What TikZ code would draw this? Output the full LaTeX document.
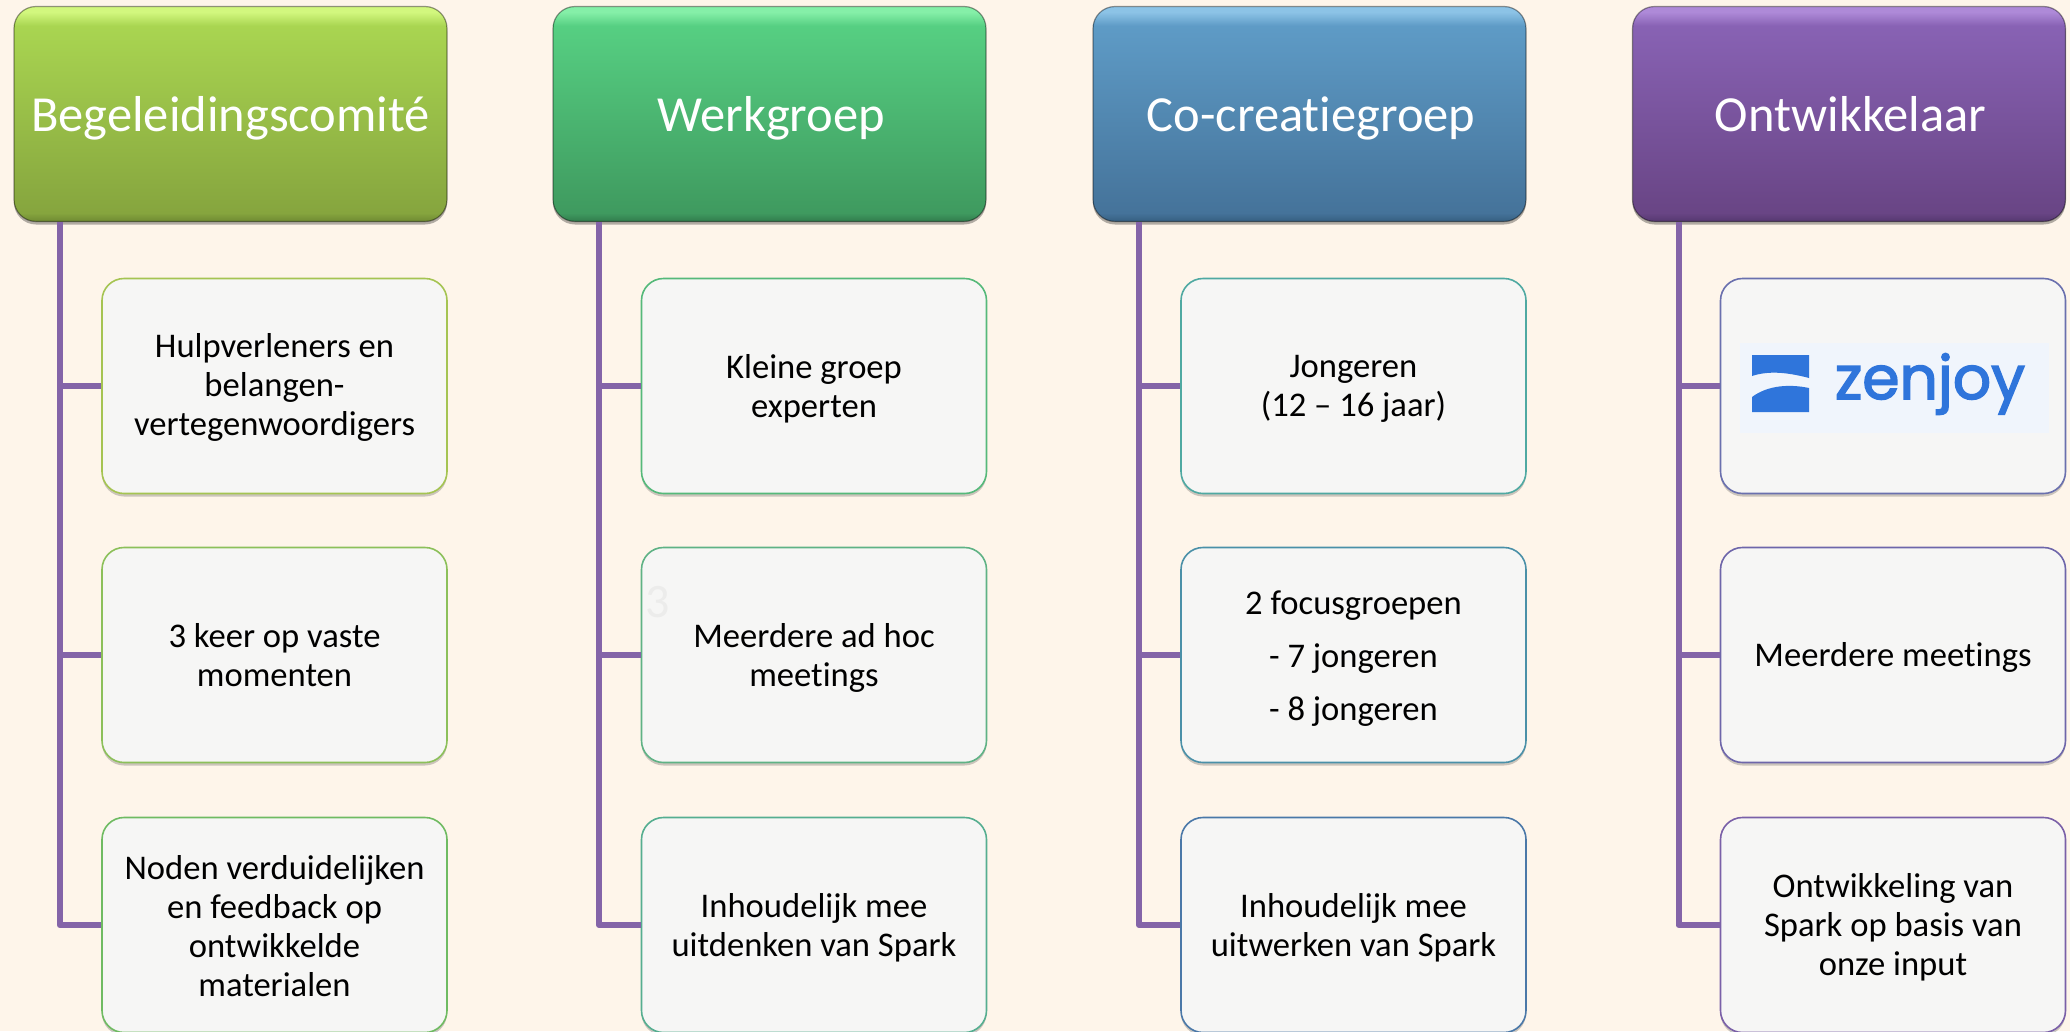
\documentclass[tikz,border=0pt]{standalone}
\usepackage{fontspec}
\setmainfont{Carlito}[Ligatures=NoCommon]
\newfontfamily\logofont{Poppins}[FakeBold=2.5]
\usetikzlibrary{shadows}
\definecolor{pagebg}{HTML}{FEF5EA}
\definecolor{linkc}{HTML}{8464A8}
\definecolor{cardfill}{HTML}{F6F6F5}
\definecolor{logoblue}{HTML}{2F75DB}
\definecolor{logobg}{HTML}{F0F5FC}
\newcommand{\hdrshade}[5]{%
  \definecolor{A#1}{HTML}{#2}\definecolor{B#1}{HTML}{#3}\definecolor{C#1}{HTML}{#4}\definecolor{D#1}{HTML}{#5}%
  \pgfdeclareverticalshading{#1}{100bp}{color(0bp)=(A#1);color(25bp)=(A#1);color(27bp)=(B#1);color(70.5bp)=(C#1);color(73.7bp)=(D#1);color(75bp)=(D#1);color(100bp)=(D#1)}}
\hdrshade{hone}{6F8A33}{86A53E}{A9D551}{D2F77E}
\hdrshade{htwo}{317C4D}{3F9A5F}{56CF82}{85EFA8}
\hdrshade{hthree}{365F80}{45739A}{5E9BC6}{8CC3E6}
\hdrshade{hfour}{553870}{694585}{8862B4}{AE8AD8}
\tikzset{
  hdr/.style={rectangle,rounded corners=22pt,minimum width=433pt,minimum height=215pt,inner sep=0pt,
    shading=#1,draw=black,draw opacity=.4,line width=1.2pt,text=white,
    text height=44pt,text depth=10pt,
    font=\fontsize{50.5}{56}\selectfont,
    drop shadow={shadow xshift=0pt,shadow yshift=-3pt,opacity=.3,fill=black}},
  card/.style={/utils/exec={\definecolor{cardline}{HTML}{#1}},rectangle,rounded corners=22pt,minimum width=345pt,minimum height=215pt,inner sep=0pt,
    fill=cardfill,draw=cardline,line width=1.6pt,
    drop shadow={shadow xshift=0pt,shadow yshift=-3pt,opacity=.2,fill=black}},
  cardtext/.style={text=black,align=center,inner sep=0pt,yshift=#1,
    font=\fontsize{34.6}{39}\selectfont},
  link/.style={draw=linkc,line width=6pt,line join=round},
  pin/.style={inner sep=0pt,minimum size=0pt}
}
\begin{document}
\begin{tikzpicture}[x=1pt,y=-1pt]
\useasboundingbox (0,0) rectangle (2070,1031);
\fill[pagebg] (0,0) rectangle (2070,1031);
\clip (0,0) rectangle (2070,1031);
% spines
\coordinate (s1) at (59.7,0);
\coordinate (s2) at (599,0);
\coordinate (s3) at (1139,0);
\coordinate (s4) at (1678.5,0);
% headers
\node[hdr=hone] (h1) at (230.5,114) {Begeleidingscomité};
\node[hdr=htwo] (h2) at (769.5,114) {\hspace*{3pt}Werkgroep};
\node[hdr=hthree] (h3) at (1309.5,114) {\hspace*{3pt}Co-creatiegroep};
\node[hdr=hfour] (h4) at (1849,114) {\hspace*{3pt}Ontwikkelaar};
% cards
\node[card={A5C452},label={[name=t11,cardtext=-1.3pt]center:{Hulpverleners en\\belangen-\\vertegenwoordigers}}] (c11) at (274.5,386) {};
\node[card={8CC05A},label={[name=t12,cardtext=0pt]center:{3 keer op vaste\\momenten}}] (c12) at (274.5,655) {};
\node[card={6FBB62},label={[name=t13,cardtext=-1.3pt]center:{Noden verduidelijken\\en feedback op\\ontwikkelde\\materialen}}] (c13) at (274.5,925) {};
\node[card={55B97A},label={[name=t21,cardtext=-2.6pt]center:{Kleine groep\\experten}}] (c21) at (814,386) {};
\node[card={5FB285},label={[name=t22,cardtext=-2.6pt]center:{Meerdere ad hoc\\meetings}}] (c22) at (814,655) {};
\node[card={55AE90},label={[name=t23,cardtext=-2.6pt]center:{Inhoudelijk mee\\uitdenken van Spark}}] (c23) at (814,925) {};
\node[card={4FA9A2},label={[name=t31,cardtext=-2.6pt]center:{Jongeren\\(12 – 16 jaar)}}] (c31) at (1353.5,386) {};
\node[card={4A90A8},label={[name=t32,cardtext=-4pt,font=\fontsize{34.6}{53}\selectfont]center:{2 focusgroepen\\- 7 jongeren\\- 8 jongeren}}] (c32) at (1353.5,655) {};
\node[card={4A78A8},label={[name=t33,cardtext=-2.6pt]center:{Inhoudelijk mee\\uitwerken van Spark}}] (c33) at (1353.5,925) {};
\node[card={6A70AE}] (c41) at (1893,386) {};
\node[card={6E66AA},label={[name=t42,cardtext=-2.6pt]center:{Meerdere meetings}}] (c42) at (1893,655) {};
\node[card={7A60A8},label={[name=t43,cardtext=-2.6pt]center:{Ontwikkeling van\\Spark op basis van\\onze input}}] (c43) at (1893,925) {};
% faint numeral
\node[pin,text=black!4!cardfill,font=\fontsize{48}{50}\selectfont] (faint) at (658,602) {3};
% connectors
\foreach \s/\h/\a/\b/\c in {s1/h1/c11/c12/c13,s2/h2/c21/c22/c23,s3/h3/c31/c32/c33,s4/h4/c41/c42/c43}{
  \draw[link] (\s |- \h.south) |- (\c.west);
  \draw[link] (\s |- \a.west) -- (\a.west);
  \draw[link] (\s |- \b.west) -- (\b.west);
}
% logo
\fill[logobg] (1740,343) rectangle (2049,433);
\fill[logoblue] (1752,355) -- (1809,355) -- (1809,378) .. controls (1790,373) and (1770,370) .. (1752,376) -- cycle;
\fill[logoblue] (1752,412) -- (1809,412) -- (1809,388) .. controls (1790,384) and (1768,385) .. (1752,397) -- cycle;
\node[pin,text=logoblue,font=\logofont\fontsize{60}{60}\selectfont,anchor=base] (logo) at (1930,399) {zenjoy};
\end{tikzpicture}
\end{document}
